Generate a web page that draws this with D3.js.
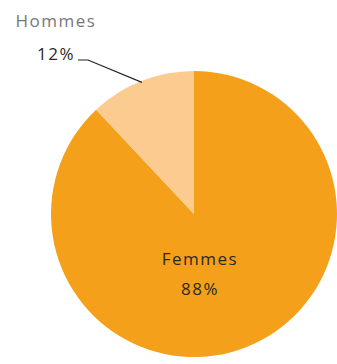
<!DOCTYPE html>
<html>
<head>
  <meta charset="UTF-8" />
  <title>Hommes / Femmes</title>
  <script src="https://d3js.org/d3.v7.min.js"></script>
  <style>
    body { margin: 0; background: #fff; }
    .lbl { font-family: "Open Sans", "DejaVu Sans", sans-serif; font-size: 17px; letter-spacing: 1.5px; fill: #2a2a2a; }
  </style>
</head>
<body>
<svg id="chart" width="337" height="364"></svg>
<script>
  // data
  const categories = ["Femmes", "Hommes"];
  const values = [88, 12];
  const colors = ["#F5A01A", "#FBCB8F"];

  const cx = 194, cy = 214, radius = 143;
  const svg = d3.select("#chart");

  const pie = d3.pie().sort(null).value(d => d.value);
  const arcs = pie(categories.map((c, i) => ({ name: c, value: values[i] })));
  const arc = d3.arc().innerRadius(0).outerRadius(radius);

  const g = svg.append("g").attr("transform", `translate(${cx},${cy})`);

  g.selectAll("path")
    .data(arcs)
    .enter().append("path")
    .attr("d", arc)
    .attr("fill", (d, i) => colors[i]);

  // Femmes label inside the slice
  const f = arcs[0];
  g.append("text").attr("class", "lbl")
    .attr("x", 6).attr("y", 51)
    .attr("text-anchor", "middle")
    .text(f.data.name);
  g.append("text").attr("class", "lbl")
    .attr("x", 6).attr("y", 81)
    .attr("text-anchor", "middle")
    .text(f.data.value + "%");

  // Hommes label outside with leader line
  const h = arcs[1];
  const mid = (h.startAngle + h.endAngle) / 2;
  const edge = [Math.sin(mid) * radius * 0.99, -Math.cos(mid) * radius * 0.99];
  g.append("polyline")
    .attr("points", [[78 - cx, 60 - cy], [88 - cx, 60 - cy], edge].map(p => p.join(",")).join(" "))
    .attr("fill", "none")
    .attr("stroke", "#222")
    .attr("stroke-width", 1.2);

  svg.append("text").attr("class", "lbl")
    .attr("x", 56).attr("y", 27)
    .attr("text-anchor", "middle")
    .style("fill", "#777")
    .text(h.data.name);
  svg.append("text").attr("class", "lbl")
    .attr("x", 56).attr("y", 60)
    .attr("text-anchor", "middle")
    .text(h.data.value + "%");
</script>
</body>
</html>
